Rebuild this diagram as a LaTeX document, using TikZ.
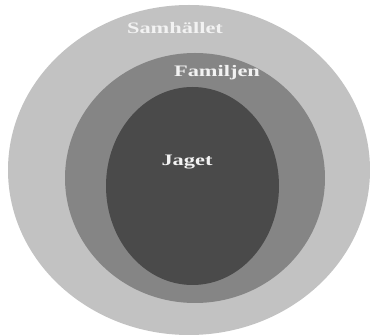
\documentclass[tikz,border=0pt]{standalone}
\usepackage{fontspec}
\setmainfont{Liberation Serif}
\usetikzlibrary{shapes.geometric}
\definecolor{outergray}{HTML}{C2C2C2}
\definecolor{midgray}{HTML}{858585}
\definecolor{innergray}{HTML}{4A4A4A}
\definecolor{labelwhite}{HTML}{F2F2F2}
\tikzset{
  ring/.style={ellipse, draw=none, inner sep=0pt},
  lbl/.style={text=labelwhite, font=\bfseries\fontsize{16}{18}\selectfont, xscale=1.4, inner sep=0pt}
}
\begin{document}
\begin{tikzpicture}[x=1pt, y=-1pt]
\useasboundingbox (0,0) rectangle (370,336);
\fill[white] (0,0) rectangle (370,336);
\node[ring, fill=outergray, minimum width=362pt, minimum height=330pt] (outer) at (189,170) {};
\node[ring, fill=midgray, minimum width=260pt, minimum height=250pt] (mid) at (195,178) {};
\node[ring, fill=innergray, minimum width=173pt, minimum height=198pt] (inner) at (192.5,186) {};
\node[lbl] (samh) at (175,28) {Samhället};
\node[lbl] (fam) at (217,73) {Familjen};
\node[lbl] (jag) at (187,162) {Jaget};
\end{tikzpicture}
\end{document}
